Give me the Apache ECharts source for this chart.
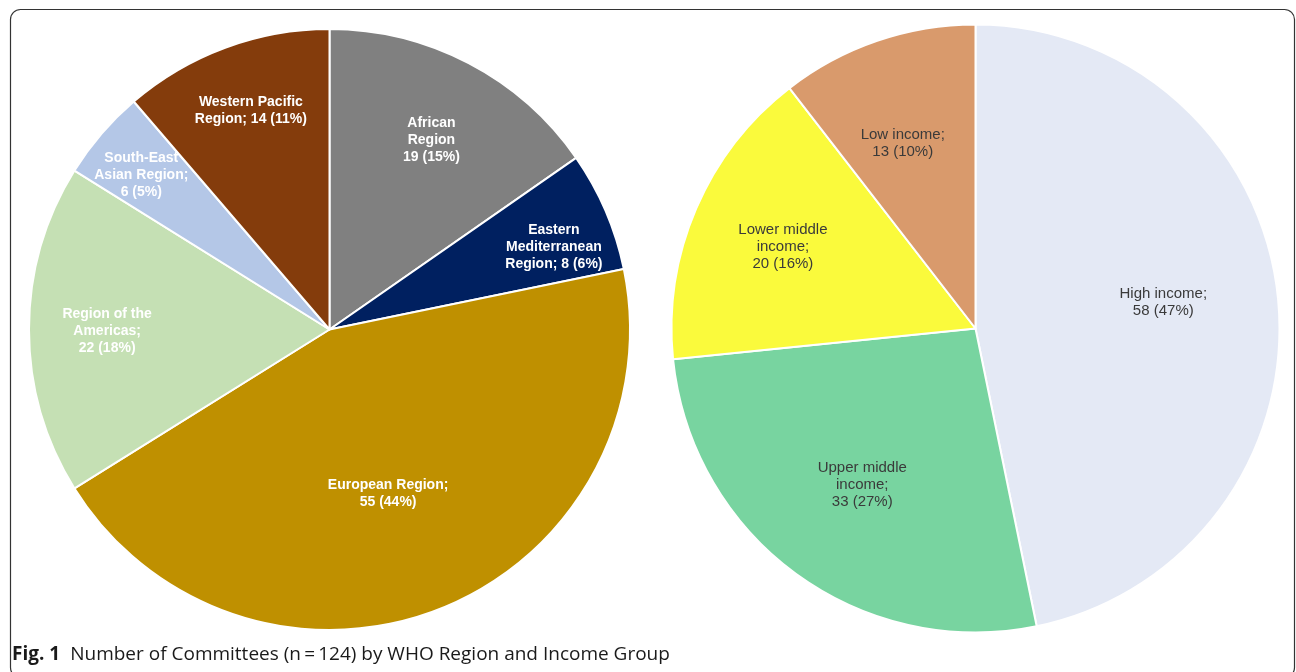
<!DOCTYPE html>
<html>
<head>
<meta charset="utf-8">
<script src="https://cdn.jsdelivr.net/npm/echarts@6/dist/echarts.min.js"></script>
<style>
html,body{margin:0;padding:0;background:#fff;}
#chart{width:1296px;height:672px;}
</style>
</head>
<body>
<div id="chart"></div>
<script>
// ---- data ----
const regionNames = ['African Region', 'Eastern Mediterranean Region', 'European Region', 'Region of the Americas', 'South-East Asian Region', 'Western Pacific Region'];
const regionValues = [19, 8, 55, 22, 6, 14];
const regionLabelStems = ['African\nRegion\n', 'Eastern\nMediterranean\nRegion; ', 'European Region;\n', 'Region of the\nAmericas;\n', 'South-East\nAsian Region;\n', 'Western Pacific\nRegion; '];

const incomeNames = ['High income', 'Upper middle income', 'Lower middle income', 'Low income'];
const incomeValues = [58, 33, 20, 13];
const incomeLabelStems = ['High income;\n', 'Upper middle\nincome;\n', 'Lower middle\nincome;\n', 'Low income;\n'];

const captionBold = 'Fig. 1';
const captionText = 'Number of Committees (n\u2009=\u2009124) by WHO Region and Income Group';

// ---- layout / style ----
const regionColors = ['#808080', '#002060', '#BF9000', '#C5E0B4', '#B4C7E7', '#843C0C'];
const incomeColors = ['#E4E9F5', '#78D4A0', '#FAFA3C', '#D99A6C'];
// label placement: fraction of radius, and angular shift (deg) from slice middle
const regionLabelFrac = [0.706, 0.786, 0.571, 0.730, 0.800, 0.765];
const regionLabelShift = [0.7, 3.0, 2.2, -0.3, -1.3, 0.6];
const incomeLabelFrac = [0.614, 0.624, 0.678, 0.645];
const incomeLabelShift = [-2.3, -0.3, -0.3, -2.6];
const leftPie = {cx: 329.5, cy: 329.5, r: 300.5};
const rightPie = {cx: 975.5, cy: 328.5, r: 304};

function midAngles(values) {
  const total = values.reduce((a, b) => a + b, 0);
  let acc = 0;
  return values.map(v => {
    const mid = (acc + v / 2) / total * 360;
    acc += v;
    return mid;
  });
}

function makePie(names, values, stems, colors, fracs, shifts, geo, textColor, fontWeight, fontSize) {
  const total = values.reduce((a, b) => a + b, 0);
  const mids = midAngles(values);
  return {
    type: 'pie',
    center: [geo.cx, geo.cy],
    radius: geo.r,
    startAngle: 90,
    clockwise: true,
    animation: false,
    avoidLabelOverlap: false,
    emphasis: {disabled: true},
    itemStyle: {borderColor: '#ffffff', borderWidth: 2},
    label: {
      show: true,
      position: 'inside',
      color: textColor,
      fontFamily: 'Liberation Sans, Arial, sans-serif',
      fontSize: fontSize,
      fontWeight: fontWeight,
      lineHeight: 17,
      align: 'center',
      formatter: p => stems[p.dataIndex] + p.value + ' (' + Math.round(p.value / total * 100) + '%)'
    },
    labelLine: {show: false},
    labelLayout: function (params) {
      const i = params.dataIndex;
      const a0 = mids[i] * Math.PI / 180;
      const a1 = (mids[i] + shifts[i]) * Math.PI / 180;
      const half = 0.5 * geo.r;
      const rr = fracs[i] * geo.r;
      return {
        dx: rr * Math.sin(a1) - half * Math.sin(a0),
        dy: -rr * Math.cos(a1) + half * Math.cos(a0)
      };
    },
    data: names.map((n, i) => ({name: n, value: values[i], itemStyle: {color: colors[i]}}))
  };
}

const chart = echarts.init(document.getElementById('chart'), null, {renderer: 'canvas'});
chart.setOption({
  backgroundColor: '#ffffff',
  animation: false,
  title: {
    left: 12,
    top: 645,
    padding: 0,
    text: '{b|' + captionBold + '}  {n|' + captionText + '}',
    textStyle: {
      rich: {
        b: {fontFamily: 'Open Sans', fontWeight: 'bold', fontSize: 19, color: '#1a1a1a'},
        n: {fontFamily: 'Open Sans', fontWeight: 'normal', fontSize: 19, color: '#1a1a1a'}
      }
    }
  },
  graphic: [{
    type: 'rect',
    silent: true,
    z: -1,
    shape: {x: 10.5, y: 9.5, width: 1284, height: 668, r: 10},
    style: {fill: 'none', stroke: '#333333', lineWidth: 1.2}
  }],
  series: [
    makePie(regionNames, regionValues, regionLabelStems, regionColors, regionLabelFrac, regionLabelShift, leftPie, '#ffffff', 'bold', 14),
    makePie(incomeNames, incomeValues, incomeLabelStems, incomeColors, incomeLabelFrac, incomeLabelShift, rightPie, '#3a3a3a', 'normal', 15)
  ]
});
</script>
</body>
</html>
